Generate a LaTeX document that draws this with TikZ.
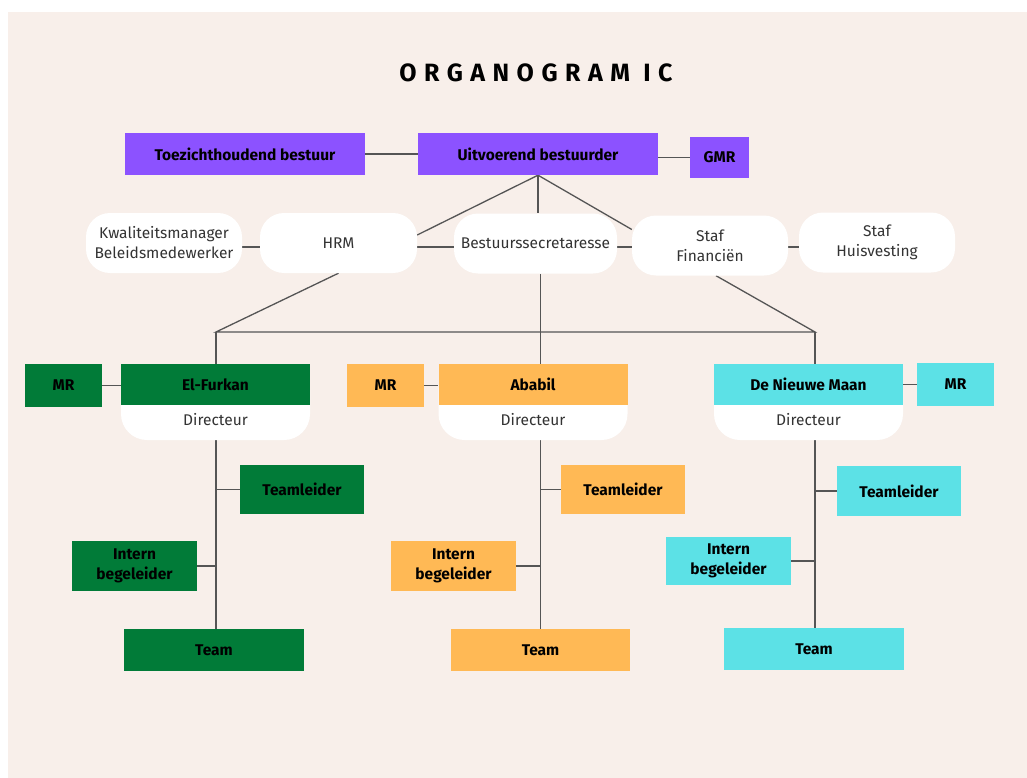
\documentclass[tikz,border=0pt]{standalone}
\usepackage{fontspec}
\setmainfont{Fira Sans}
\usepackage{tikz}
\usetikzlibrary{positioning}
\definecolor{achtergrond}{HTML}{F8EFEA}
\definecolor{paars}{HTML}{8C52FF}
\definecolor{groen}{HTML}{017B38}
\definecolor{oranje}{HTML}{FFB955}
\definecolor{turkoois}{HTML}{5CE1E6}
\definecolor{lijn}{HTML}{555555}
\pgfdeclarelayer{achter}
\pgfdeclarelayer{lijnen}
\pgfsetlayers{achter,lijnen,main}
\tikzset{
	kleurvak/.style={rectangle, inner sep=0pt, align=center, text=black, font=\bfseries\fontsize{15.5}{19.5}\selectfont},
	rondvak/.style={rectangle, rounded corners=24pt, fill=white, inner sep=0pt, align=center, text=black!80, font=\fontsize{15.5}{20}\selectfont, minimum width=156, minimum height=60},
	dirvak/.style={rectangle, rounded corners=26pt, fill=white, minimum width=189, minimum height=76},
	dirtekst/.style={text=black!80, font=\fontsize{15.5}{18}\selectfont},
	titel/.style={font=\bfseries\fontsize{25}{30}\selectfont\addfontfeature{LetterSpace=30}},
	lijnstuk/.style={draw=lijn, line width=1.3pt}
}
\newcommand{\school}[4] % {naam}{x}{kleur}{titel}
{
	\node[dirvak] (#1) at (#2,402) {};
	\node[kleurvak, fill=#3, minimum width=189, minimum height=41] (#1kop) at (#2,384.5) {#4};
	\node[dirtekst] (#1dir) at (#2,420) {Directeur};
}

\begin{document}
\begin{tikzpicture}[x=1pt, y=-1pt]
	\useasboundingbox (0,0) rectangle (1027,778);
	\begin{pgfonlayer}{achter}
		\fill[achtergrond] (8,12) rectangle (1027,778);
	\end{pgfonlayer}

	\node[titel] (kop) at (536,73) {ORGANOGRAM IC};

	% bestuur
	\node[kleurvak, fill=paars, minimum width=240, minimum height=42] (toezicht) at (245,154) {Toezichthoudend bestuur};
	\node[kleurvak, fill=paars, minimum width=240, minimum height=42] (ub) at (538,154) {Uitvoerend bestuurder};
	\node[kleurvak, fill=paars, minimum width=59, minimum height=41] (gmr) at (719.5,157.5) {GMR};

	% staf
	\node[rondvak] (kwal) at (164,243) {Kwaliteitsmanager\\Beleidsmedewerker};
	\node[rondvak, minimum width=157] (hrm) at (338.5,243) {HRM};
	\node[rondvak, minimum width=163] (bs) at (535.5,243.5) {Bestuurssecretaresse};
	\node[rondvak] (sf) at (710,245.5) {Staf\\Financiën};
	\node[rondvak] (sh) at (877,242.5) {Staf\\Huisvesting};

	% scholen
	\school{ef}{215.5}{groen}{El-Furkan}
	\school{ab}{533}{oranje}{Ababil}
	\school{nm}{808.5}{turkoois}{De Nieuwe Maan}
	\node[kleurvak, fill=groen, minimum width=77, minimum height=43] (efmr) at (63.5,385.5) {MR};
	\node[kleurvak, fill=oranje, minimum width=77, minimum height=43] (abmr) at (385.5,385.5) {MR};
	\node[kleurvak, fill=turkoois, minimum width=77, minimum height=43] (nmmr) at (955.5,384.5) {MR};

	\node[kleurvak, fill=groen, minimum width=124, minimum height=49] (eftl) at (302,489.5) {Teamleider};
	\node[kleurvak, fill=oranje, minimum width=124, minimum height=49] (abtl) at (623,489.5) {Teamleider};
	\node[kleurvak, fill=turkoois, minimum width=124, minimum height=50] (nmtl) at (899,491) {Teamleider};
	\node[kleurvak, fill=groen, minimum width=125, minimum height=50] (efib) at (134.5,566) {Intern\\begeleider};
	\node[kleurvak, fill=oranje, minimum width=125, minimum height=50] (abib) at (453.5,566) {Intern\\begeleider};
	\node[kleurvak, fill=turkoois, minimum width=125, minimum height=48] (nmib) at (728.5,561) {Intern\\begeleider};
	\node[kleurvak, fill=groen, minimum width=180, minimum height=42] (efteam) at (214,650) {Team};
	\node[kleurvak, fill=oranje, minimum width=179, minimum height=42] (abteam) at (540.5,650) {Team};
	\node[kleurvak, fill=turkoois, minimum width=180, minimum height=42] (nmteam) at (814,649) {Team};

	\coordinate (rij) at (0,247);
	\coordinate (hoekL) at (216,332);
	\coordinate (hoekR) at (815,332);
	\coordinate (abas) at (540.5,332);

	\begin{pgfonlayer}{lijnen}
		\draw[lijnstuk] (toezicht) -- (ub);
		\draw[lijnstuk] (gmr.west) -- (gmr.west -| ub.east);
		\draw[lijnstuk] (ub.south) -- ([yshift=8pt]hrm.east);
		\draw[lijnstuk] (ub.south) -- (ub.south |- bs.north);
		\draw[lijnstuk] (ub.south) -- ([yshift=16pt]sf.west);
		\draw[lijnstuk] (kwal.east |- rij) -- (hrm.west |- rij);
		\draw[lijnstuk] (hrm.east |- rij) -- (bs.west |- rij);
		\draw[lijnstuk] (bs.east |- rij) -- (sf.west |- rij);
		\draw[lijnstuk] (sf.east |- rij) -- (sh.west |- rij);
		\draw[lijnstuk] (hrm.south) -- (hoekL) -- (hoekR) -- ([xshift=6pt]sf.south);
		\draw[lijnstuk] (hoekL) -- (hoekL |- efteam.north);
		\draw[lijnstuk] (abas |- bs.south) -- (abas |- abteam.north);
		\draw[lijnstuk] (hoekR) -- (hoekR |- nmteam.north);
		\draw[lijnstuk] (efmr.east) -- (efmr.east -| efkop.west);
		\draw[lijnstuk] (abmr.east) -- (abmr.east -| abkop.west);
		\draw[lijnstuk] (nmmr.west) -- (nmmr.west -| nmkop.east);
		\draw[lijnstuk] (eftl.west) -- (eftl.west -| hoekL);
		\draw[lijnstuk] (abtl.west) -- (abtl.west -| abas);
		\draw[lijnstuk] (nmtl.west) -- (nmtl.west -| hoekR);
		\draw[lijnstuk] (efib.east) -- (efib.east -| hoekL);
		\draw[lijnstuk] (abib.east) -- (abib.east -| abas);
		\draw[lijnstuk] (nmib.east) -- (nmib.east -| hoekR);
	\end{pgfonlayer}
\end{tikzpicture}
\end{document}
